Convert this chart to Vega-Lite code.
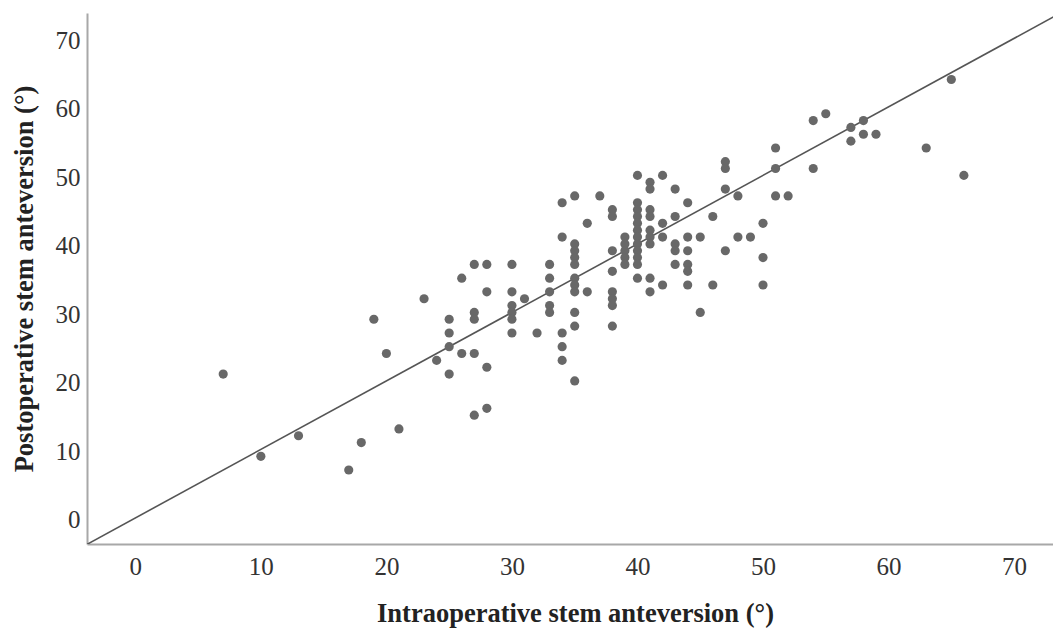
{
  "$schema": "https://vega.github.io/schema/vega-lite/v6.json",
  "autosize": "none",
  "width": 966,
  "height": 531,
  "padding": {"left": 87, "top": 13, "right": 0, "bottom": 87},
  "background": "white",
  "config": {
    "view": {"stroke": null},
    "axis": {
      "grid": false,
      "ticks": false,
      "tickSize": 0,
      "domainColor": "#a8a8a8",
      "domainWidth": 2,
      "labelFont": "Liberation Serif",
      "labelFontSize": 25,
      "labelColor": "#333333",
      "titleFont": "Liberation Serif",
      "titleFontWeight": "bold",
      "titleFontSize": 26.5,
      "titleColor": "#222222"
    }
  },
  "layer": [
    {
      "data": {"values": [{"intra": -5, "post": -5}, {"intra": 80, "post": 80}]},
      "mark": {"type": "line", "color": "#555555", "strokeWidth": 1.6, "clip": true},
      "encoding": {
        "x": {"field": "intra", "type": "quantitative"},
        "y": {"field": "post", "type": "quantitative"}
      }
    },
    {
      "data": {"values": [
        {"intra": 7, "post": 21}, {"intra": 10, "post": 9}, {"intra": 13, "post": 12}, {"intra": 17, "post": 7},
        {"intra": 18, "post": 11}, {"intra": 19, "post": 29}, {"intra": 20, "post": 24}, {"intra": 21, "post": 13},
        {"intra": 23, "post": 32}, {"intra": 24, "post": 23},
        {"intra": 25, "post": 29}, {"intra": 25, "post": 27}, {"intra": 25, "post": 25}, {"intra": 25, "post": 21},
        {"intra": 26, "post": 35}, {"intra": 26, "post": 24},
        {"intra": 27, "post": 37}, {"intra": 27, "post": 30}, {"intra": 27, "post": 29}, {"intra": 27, "post": 24}, {"intra": 27, "post": 15},
        {"intra": 28, "post": 37}, {"intra": 28, "post": 33}, {"intra": 28, "post": 22}, {"intra": 28, "post": 16},
        {"intra": 30, "post": 37}, {"intra": 30, "post": 33}, {"intra": 30, "post": 31}, {"intra": 30, "post": 30}, {"intra": 30, "post": 29}, {"intra": 30, "post": 27},
        {"intra": 31, "post": 32}, {"intra": 32, "post": 27},
        {"intra": 33, "post": 37}, {"intra": 33, "post": 35}, {"intra": 33, "post": 33}, {"intra": 33, "post": 31}, {"intra": 33, "post": 30},
        {"intra": 34, "post": 46}, {"intra": 34, "post": 41}, {"intra": 34, "post": 27}, {"intra": 34, "post": 25}, {"intra": 34, "post": 23},
        {"intra": 35, "post": 47}, {"intra": 35, "post": 40}, {"intra": 35, "post": 39}, {"intra": 35, "post": 38}, {"intra": 35, "post": 37}, {"intra": 35, "post": 35}, {"intra": 35, "post": 34}, {"intra": 35, "post": 33}, {"intra": 35, "post": 30}, {"intra": 35, "post": 28}, {"intra": 35, "post": 20},
        {"intra": 36, "post": 43}, {"intra": 36, "post": 33},
        {"intra": 37, "post": 47},
        {"intra": 38, "post": 45}, {"intra": 38, "post": 44}, {"intra": 38, "post": 39}, {"intra": 38, "post": 36}, {"intra": 38, "post": 33}, {"intra": 38, "post": 32}, {"intra": 38, "post": 31}, {"intra": 38, "post": 28},
        {"intra": 39, "post": 41}, {"intra": 39, "post": 40}, {"intra": 39, "post": 39}, {"intra": 39, "post": 38}, {"intra": 39, "post": 37},
        {"intra": 40, "post": 50}, {"intra": 40, "post": 46}, {"intra": 40, "post": 45}, {"intra": 40, "post": 44}, {"intra": 40, "post": 43}, {"intra": 40, "post": 42}, {"intra": 40, "post": 41}, {"intra": 40, "post": 40}, {"intra": 40, "post": 39}, {"intra": 40, "post": 38}, {"intra": 40, "post": 37}, {"intra": 40, "post": 35},
        {"intra": 41, "post": 49}, {"intra": 41, "post": 48}, {"intra": 41, "post": 45}, {"intra": 41, "post": 44}, {"intra": 41, "post": 42}, {"intra": 41, "post": 41}, {"intra": 41, "post": 40}, {"intra": 41, "post": 35}, {"intra": 41, "post": 33},
        {"intra": 42, "post": 50}, {"intra": 42, "post": 43}, {"intra": 42, "post": 41}, {"intra": 42, "post": 34},
        {"intra": 43, "post": 48}, {"intra": 43, "post": 44}, {"intra": 43, "post": 40}, {"intra": 43, "post": 39}, {"intra": 43, "post": 37},
        {"intra": 44, "post": 46}, {"intra": 44, "post": 41}, {"intra": 44, "post": 39}, {"intra": 44, "post": 37}, {"intra": 44, "post": 36}, {"intra": 44, "post": 34},
        {"intra": 45, "post": 41}, {"intra": 45, "post": 30},
        {"intra": 46, "post": 44}, {"intra": 46, "post": 34},
        {"intra": 47, "post": 52}, {"intra": 47, "post": 51}, {"intra": 47, "post": 48}, {"intra": 47, "post": 39},
        {"intra": 48, "post": 47}, {"intra": 48, "post": 41},
        {"intra": 49, "post": 41},
        {"intra": 50, "post": 43}, {"intra": 50, "post": 38}, {"intra": 50, "post": 34},
        {"intra": 51, "post": 54}, {"intra": 51, "post": 51}, {"intra": 51, "post": 47},
        {"intra": 52, "post": 47},
        {"intra": 54, "post": 58}, {"intra": 54, "post": 51},
        {"intra": 55, "post": 59},
        {"intra": 57, "post": 57}, {"intra": 57, "post": 55},
        {"intra": 58, "post": 58}, {"intra": 58, "post": 56},
        {"intra": 59, "post": 56},
        {"intra": 63, "post": 54},
        {"intra": 65, "post": 64},
        {"intra": 66, "post": 50}
      ]},
      "mark": {"type": "circle", "color": "#686868", "opacity": 1, "size": 84},
      "encoding": {
        "x": {
          "field": "intra", "type": "quantitative",
          "scale": {"domain": [-3.85, 73.1], "nice": false, "zero": false},
          "axis": {"title": "Intraoperative stem anteversion (°)", "values": [0, 10, 20, 30, 40, 50, 60, 70], "labelPadding": 10, "titlePadding": 21, "titleX": 488}
        },
        "y": {
          "field": "post", "type": "quantitative",
          "scale": {"domain": [-3.8, 73.7], "nice": false, "zero": false},
          "axis": {"title": "Postoperative stem anteversion (°)", "values": [0, 10, 20, 30, 40, 50, 60, 70], "labelPadding": 7, "labelOffset": 2, "titlePadding": 17}
        }
      }
    }
  ]
}
